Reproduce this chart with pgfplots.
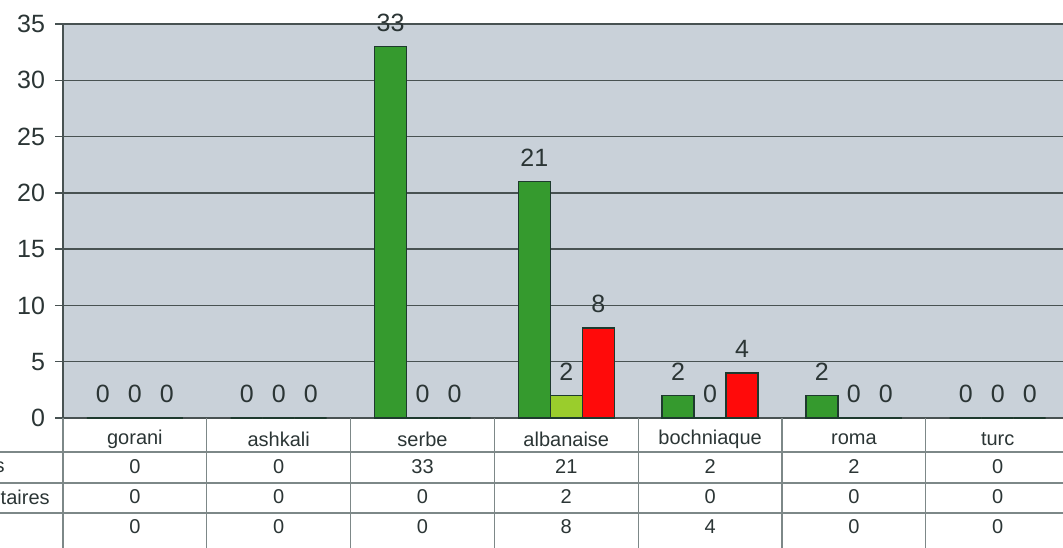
\documentclass[border=0pt]{standalone}
\usepackage{fontspec}
\setmainfont{Liberation Sans}
\usepackage{pgfplots}
\usepackage{pgfplotstable}
\pgfplotsset{compat=1.18}
\definecolor{bg}{HTML}{C9D1D9}
\definecolor{gridc}{HTML}{485252}
\definecolor{txt}{HTML}{2B3535}
\definecolor{dg}{HTML}{359A2E}
\definecolor{lg}{HTML}{9ACD2C}
\definecolor{rd}{HTML}{FF0A0A}
\definecolor{edge}{HTML}{1E3A2E}
\definecolor{tline}{HTML}{7D8888}
\pgfplotstableread{
x a b c
0 0 0 0
1 0 0 0
2 33 0 0
3 21 2 8
4 2 0 4
5 2 0 0
6 0 0 0
}\data
\begin{document}
\begin{tikzpicture}
\useasboundingbox (0,0) rectangle (531.5pt,273.5pt);
\clip (0,0) rectangle (531.5pt,273.5pt);
\begin{axis}[
  at={(31.5pt,64.5pt)}, anchor=south west,
  scale only axis, width=503.3pt, height=197pt,
  ybar, bar width=16pt,
  xmin=-0.5, xmax=6.5, ymin=0, ymax=35,
  clip=false,
  axis background/.style={fill=bg},
  axis line style={draw=gridc, line width=0.7pt},
  ytick={0,5,...,35}, ytick pos=left, tick align=outside,
  major tick length=4pt,
  ytick style={draw=gridc, line width=0.7pt},
  ymajorgrids, major grid style={draw=gridc, line width=0.7pt},
  xtick={0,...,6},
  xticklabels={gorani,ashkali,serbe,albanaise,bochniaque,roma,turc},
  xtick style={draw=none},
  xticklabel style={font=\fontsize{10}{12}\selectfont, text=txt, anchor=center, yshift=-6.5pt},
  yticklabel style={font=\fontsize{12.5}{14}\selectfont, text=txt, anchor=east, xshift=-1.5pt},
  /pgf/number format/assume math mode=true,
  every node near coord/.append style={font=\fontsize{12.5}{14}\selectfont, text=txt},
]
\addplot[ybar, bar shift=-16pt, fill=dg, draw=edge, line width=0.8pt,
  nodes near coords, every node near coord/.append style={anchor=center, yshift=12pt}]
  table[x=x, y=a]{\data};
\addplot[ybar, bar shift=0pt, fill=lg, draw=edge, line width=0.8pt,
  nodes near coords, every node near coord/.append style={anchor=center, yshift=12pt}]
  table[x=x, y=b]{\data};
\addplot[ybar, bar shift=16pt, fill=rd, draw=edge, line width=0.8pt,
  nodes near coords, every node near coord/.append style={anchor=center, yshift=12pt}]
  table[x=x, y=c]{\data};
% table rows
\addplot[only marks, bar shift=0pt, mark=*, mark size=0pt, mark options={draw=none, fill=none},
  nodes near coords, point meta=explicit,
  every node near coord/.append style={anchor=center, font=\fontsize{10}{12}\selectfont}]
  table[x=x, y expr=-4.353, meta=a]{\data};
\addplot[only marks, bar shift=0pt, mark=*, mark size=0pt, mark options={draw=none, fill=none},
  nodes near coords, point meta=explicit,
  every node near coord/.append style={anchor=center, font=\fontsize{10}{12}\selectfont}]
  table[x=x, y expr=-7.018, meta=b]{\data};
\addplot[only marks, bar shift=0pt, mark=*, mark size=0pt, mark options={draw=none, fill=none},
  nodes near coords, point meta=explicit,
  every node near coord/.append style={anchor=center, font=\fontsize{10}{12}\selectfont}]
  table[x=x, y expr=-9.683, meta=c]{\data};
% table grid
\foreach \k in {-0.5,0.5,1.5,2.5,3.5,4.5,5.5,6.5}{
  \edef\temp{\noexpand\draw[tline, line width=0.6pt] (axis cs:\k,0) -- (axis cs:\k,-12);}
  \temp
}
\draw[tline, line width=0.6pt] (axis cs:-1,-3.02) -- (axis cs:6.6,-3.02);
\draw[tline, line width=0.6pt] (axis cs:-1,-5.774) -- (axis cs:6.6,-5.774);
\draw[tline, line width=0.6pt] (axis cs:-1,-8.439) -- (axis cs:6.6,-8.439);
\node[anchor=east, text=txt, font=\fontsize{10}{12}\selectfont, inner sep=0pt] at (axis cs:-0.903,-4.353) {s};
\node[anchor=east, text=txt, font=\fontsize{10}{12}\selectfont, inner sep=0pt] at (axis cs:-0.59,-7.018) {ntaires};
\end{axis}
\end{tikzpicture}
\end{document}
